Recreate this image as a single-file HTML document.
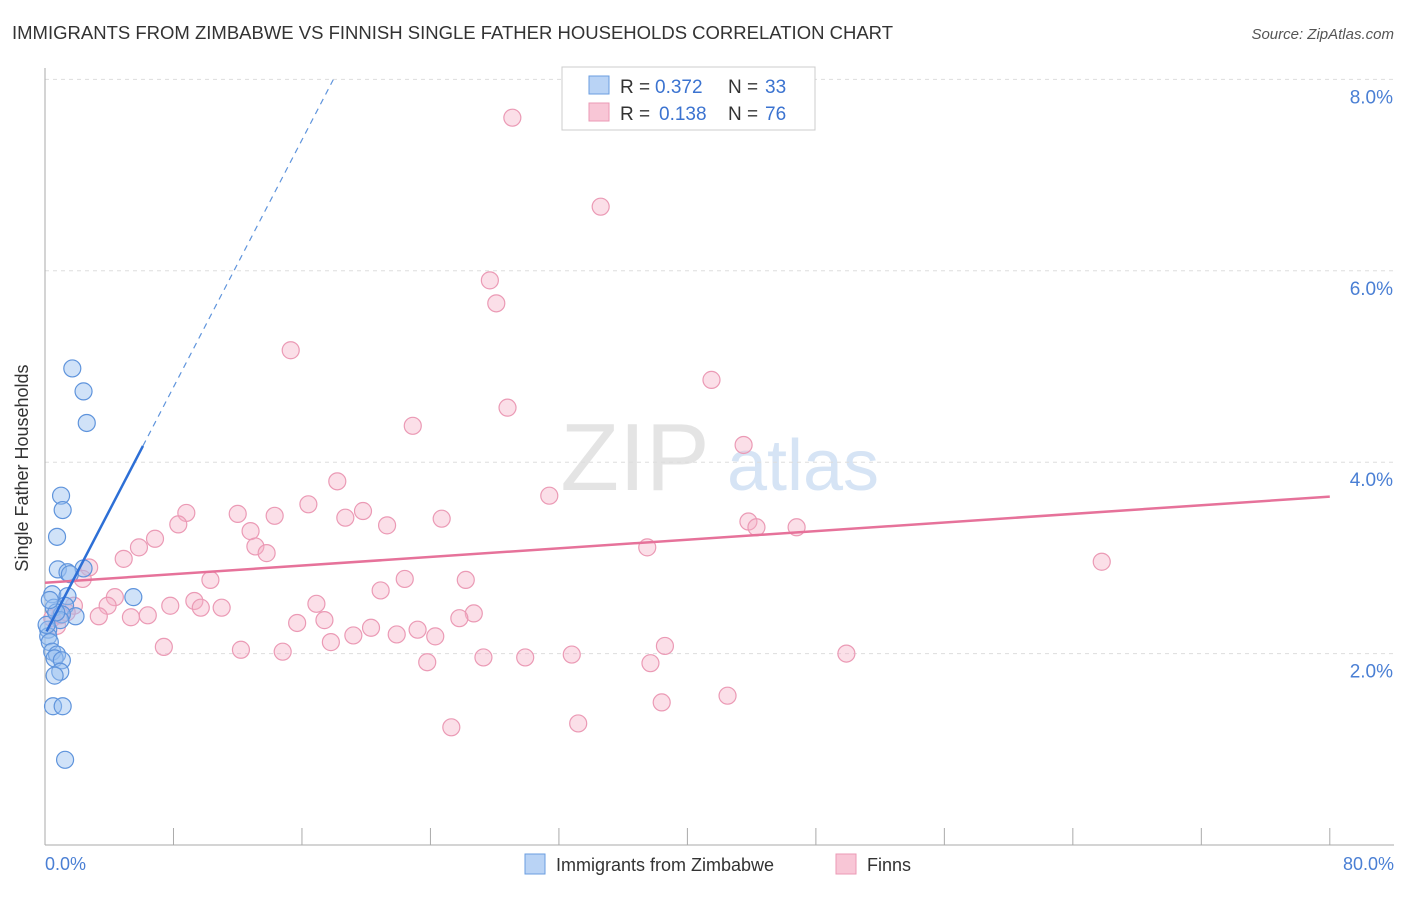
<!DOCTYPE html>
<html><head><meta charset="utf-8"><style>
body{margin:0;background:#fff;font-family:"Liberation Sans",sans-serif;}
svg text{font-family:"Liberation Sans",sans-serif;}
</style></head><body>
<svg width="1406" height="892" xmlns="http://www.w3.org/2000/svg">
<text x="12" y="39" font-size="18.5" fill="#333" textLength="881">IMMIGRANTS FROM ZIMBABWE VS FINNISH SINGLE FATHER HOUSEHOLDS CORRELATION CHART</text>
<text x="1394" y="39" font-size="15" fill="#555" font-style="italic" text-anchor="end">Source: ZipAtlas.com</text>
<g>
<text x="635" y="490" font-size="96" fill="#e4e4e4" font-family="Liberation Serif" text-anchor="middle">ZIP</text>
<text x="803" y="490" font-size="72" fill="#d6e4f5" text-anchor="middle">atlas</text>
</g>
<g id="grid"></g>
<line x1="45" y1="68" x2="45" y2="845" stroke="#aaa"/>
<line x1="45" y1="845" x2="1394" y2="845" stroke="#aaa"/>
<g id="ticks"></g>
<text x="16" y="456" font-size="18" fill="#333" transform="rotate(-90 28 456)" text-anchor="middle">Single Father Households</text>
<text x="45" y="870" font-size="18" fill="#4a7fd4">0.0%</text>
<text x="1394" y="870" font-size="18" fill="#4a7fd4" text-anchor="end">80.0%</text>
<g id="pts"></g>
<g id="lines"></g>
<g>
<rect x="562" y="67" width="253" height="63" fill="#fff" stroke="#ccc"/>
<rect x="589" y="76" width="20" height="18" fill="#b9d3f5" stroke="#6a9ee0"/>
<rect x="589" y="103" width="20" height="18" fill="#f8c6d6" stroke="#eb9ab5"/>
<text x="620" y="93" font-size="19" fill="#333">R =</text>
<text x="655" y="93" font-size="19" fill="#3b73d0">0.372</text>
<text x="728" y="93" font-size="19" fill="#333">N =</text>
<text x="765" y="93" font-size="19" fill="#3b73d0">33</text>
<text x="620" y="120" font-size="19" fill="#333">R =</text>
<text x="659" y="120" font-size="19" fill="#3b73d0">0.138</text>
<text x="728" y="120" font-size="19" fill="#333">N =</text>
<text x="765" y="120" font-size="19" fill="#3b73d0">76</text>
</g>
<g>
<rect x="525" y="854" width="20" height="20" fill="#b9d3f5" stroke="#6a9ee0"/>
<text x="556" y="871" font-size="18" fill="#333">Immigrants from Zimbabwe</text>
<rect x="836" y="854" width="20" height="20" fill="#f8c6d6" stroke="#eb9ab5"/>
<text x="867" y="871" font-size="18" fill="#333">Finns</text>
</g>
</svg>
<script>
const yTicks=[2,4,6,8];
const yTickLabels=["2.0%","4.0%","6.0%","8.0%"];
const xTicks=[8,16,24,32,40,48,56,64,72,80];
const blueX=[1.7,2.4,2.6,1.0,1.1,0.75,0.8,1.4,2.4,1.55,0.45,1.4,5.5,0.55,1.25,1.9,1.05,0.95,0.2,0.2,0.3,0.45,0.75,0.6,1.05,0.95,0.6,0.5,1.1,1.25,0.1,0.7,0.3];
const blueY=[4.98,4.74,4.41,3.65,3.50,3.22,2.88,2.85,2.89,2.83,2.62,2.60,2.59,2.48,2.50,2.39,2.41,2.35,2.25,2.18,2.12,2.02,1.99,1.95,1.93,1.81,1.77,1.45,1.45,0.89,2.30,2.43,2.56];
const pinkX=[29.1,34.6,27.7,28.1,15.3,41.5,28.8,22.9,43.5,31.4,18.2,8.8,16.4,19.8,12.0,14.3,8.3,18.7,24.7,21.3,43.8,44.3,46.8,12.8,6.85,5.85,13.1,13.8,37.5,4.9,65.8,2.75,2.35,10.3,22.4,26.2,20.9,4.35,3.9,7.8,9.3,16.9,9.7,11.0,1.8,1.35,3.35,5.35,6.4,26.7,25.8,17.4,15.7,20.3,23.2,21.9,24.3,19.2,17.8,7.4,38.6,12.2,14.8,32.8,49.9,27.3,29.9,23.8,37.7,0.75,0.45,42.5,38.4,33.2,25.3,0.95];
const pinkY=[7.60,6.67,5.90,5.66,5.17,4.86,4.57,4.38,4.18,3.65,3.80,3.47,3.56,3.49,3.46,3.44,3.35,3.42,3.41,3.34,3.38,3.32,3.32,3.28,3.20,3.11,3.12,3.05,3.11,2.99,2.96,2.90,2.78,2.77,2.78,2.77,2.66,2.59,2.50,2.50,2.55,2.52,2.48,2.48,2.50,2.43,2.39,2.38,2.40,2.42,2.37,2.35,2.32,2.27,2.25,2.20,2.18,2.19,2.12,2.07,2.08,2.04,2.02,1.99,2.00,1.96,1.96,1.91,1.90,2.29,2.37,1.56,1.49,1.27,1.23,2.40];
const pinkTrend=[2.74,3.64];
const blueTrend=[2.2,0.323];
const X=v=>45+v*16.06, Y=v=>845-v*95.7;
const NS="http://www.w3.org/2000/svg";
function mk(t,a,p){const e=document.createElementNS(NS,t);for(const k in a)e.setAttribute(k,a[k]);p.appendChild(e);return e;}
const grid=document.getElementById('grid');
yTicks.forEach((t,i)=>{
 const l=mk('line',{x1:45,x2:1394,y1:Y(t),y2:Y(t),stroke:'#ddd','stroke-dasharray':'4,4'},grid);
 
 
 const tx=mk('text',{x:1393,y:Y(t)+24,'font-size':19,fill:'#4a7fd4','text-anchor':'end'},grid);
 tx.textContent=yTickLabels[i];
 
 
});
const tk=document.getElementById('ticks');
xTicks.forEach(t=>{
 const l=mk('line',{x1:X(t),x2:X(t),y1:828,y2:845,stroke:'#aaa'},tk);
 
 
});
const pts=document.getElementById('pts');
pinkX.forEach((x,i)=>{
 const c=mk('circle',{cx:X(x),cy:Y(pinkY[i]),r:8.5,fill:'rgba(245,175,198,0.4)',stroke:'#eb9ab5','stroke-width':1.2},pts);
 
 
});
blueX.forEach((x,i)=>{
 const c=mk('circle',{cx:X(x),cy:Y(blueY[i]),r:8.5,fill:'rgba(150,190,240,0.45)',stroke:'#5f94dc','stroke-width':1.2},pts);
 
 
});
const ln=document.getElementById('lines');
const p=mk('line',{x1:X(0),y1:Y(pinkTrend[0]),x2:X(80),y2:Y(pinkTrend[1]),stroke:'#e6729a','stroke-width':2.5},ln);


const bY=x=>blueTrend[0]+blueTrend[1]*x;
const b=mk('line',{x1:X(0.1),y1:Y(bY(0.1)),x2:X(6.1),y2:Y(bY(6.1)),stroke:'#2d6fd6','stroke-width':2.5},ln);


const bd=mk('line',{x1:X(6.1),y1:Y(bY(6.1)),x2:X(17.95),y2:Y(bY(17.95)),stroke:'#5f94dc','stroke-width':1.2,'stroke-dasharray':'6,5'},ln);


</script>
</body></html>
